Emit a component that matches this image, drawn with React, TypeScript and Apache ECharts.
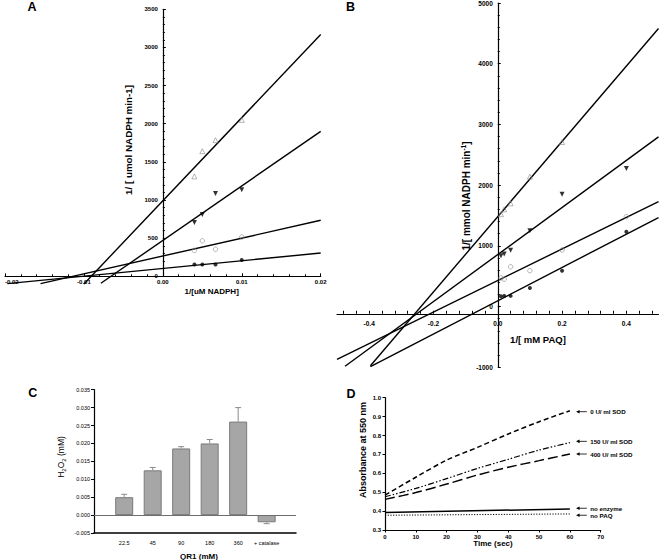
import React, { useEffect, useRef } from 'react';
import * as echarts from 'echarts';

const FONT = '"Liberation Sans", Arial, Helvetica, sans-serif';

// ---------- Panel A (1/v vs 1/[NADPH]) ----------
const aTriOpen = [[0.004, 1310], [0.005, 1640], [0.00667, 1785], [0.01, 2050]];
const aTriFilled = [[0.004, 705], [0.005, 810], [0.00667, 1085], [0.01, 1135]];
const aCircOpen = [[0.004, 340], [0.005, 465], [0.00667, 355], [0.01, 515]];
const aCircFilled = [[0.004, 155], [0.005, 155], [0.00667, 155], [0.01, 215]];
const aFitTriOpen = [[-0.01, -100], [0.02, 3170]];
const aFitTriFilled = [[-0.00785, -91], [0.02, 1900]];
const aFitCircOpen = [[-0.0155, -96], [0.02, 734]];
const aFitCircFilled = [[-0.0197, -96], [0.02, 305]];

// ---------- Panel B (1/v vs 1/[PAQ]) ----------
const bTriOpen = [[0.01, 1520], [0.02, 1600], [0.04, 1700], [0.1, 2140], [0.2, 2710]];
const bTriFilled = [[0.01, 835], [0.02, 865], [0.04, 925], [0.1, 1250], [0.2, 1850], [0.4, 2275]];
const bCircOpen = [[0.01, 470], [0.02, 450], [0.04, 655], [0.1, 590], [0.2, 930], [0.4, 1480]];
const bCircFilled = [[0.01, 170], [0.02, 175], [0.04, 175], [0.1, 305], [0.2, 590], [0.4, 1230]];
const bFitTriOpen = [[-0.396, -975], [0.5, 4580]];
const bFitTriFilled = [[-0.475, -985], [0.5, 2794]];
const bFitCircOpen = [[-0.5, -870], [0.5, 1727]];
const bFitCircFilled = [[-0.396, -992], [0.5, 1466]];
const bXLabels = [-0.4, -0.2, 0, 0.2, 0.4];
const bXAxisCrossesAt = -120; // y value where the x axis line is drawn

// ---------- Panel C (H2O2 bars) ----------
const cCats = ['22.5', '45', '90', '180', '360', '+ catalase'];
const cValues = [0.005, 0.0125, 0.0186, 0.02, 0.0261, -0.002];
const cErrors = [0.0008, 0.0008, 0.0005, 0.0011, 0.0039, 0.0004];

// ---------- Panel D (absorbance vs time) ----------
const dTime = [0, 10, 20, 30, 40, 50, 60];
const dSod0 = [0.485, 0.579, 0.67, 0.737, 0.808, 0.873, 0.931];
const dSod150 = [0.476, 0.52, 0.572, 0.626, 0.674, 0.723, 0.762];
const dSod400 = [0.462, 0.498, 0.543, 0.591, 0.632, 0.667, 0.702];
const dNoEnzymeT = [0, 60];
const dNoEnzyme = [0.393, 0.411];
const dNoPaqT = [0, 60];
const dNoPaq = [0.378, 0.385];
const dLabels = ['0 U/ ml SOD', '150 U/ ml SOD', '400 U/ ml SOD', 'no enzyme', 'no PAQ'];
const dLabelY = [0.926, 0.769, 0.702, 0.415, 0.378];

const pair = (xs: number[], ys: number[]) => xs.map((x, i) => [x, ys[i]]);

const blackLine = (data: number[][], xi: number, yi: number) => ({
  type: 'line', xAxisIndex: xi, yAxisIndex: yi, data, symbol: 'none', showSymbol: false,
  clip: false, silent: true, lineStyle: { color: '#000', width: 1.4 }, z: 3,
});

const marks = (data: number[][], xi: number, yi: number, symbol: string, rot: number, filled: boolean, size = 5) => ({
  type: 'scatter', xAxisIndex: xi, yAxisIndex: yi, data, symbol, symbolRotate: rot, symbolSize: size,
  clip: false, silent: true, z: 4,
  itemStyle: filled
    ? { color: '#000' }
    : { color: 'rgba(255,255,255,0)', borderColor: '#8c8c8c', borderWidth: 0.8 },
});

const tickLabel = (size: number, bold = true) => ({
  fontSize: size, fontWeight: bold ? 'bold' : 'normal', color: '#000', fontFamily: FONT,
});

const axisLine = (w = 1.2) => ({ onZero: false, lineStyle: { color: '#000', width: w } });

const gtext = (text: string, x: number, y: number, size: number, rot = 0, rich?: any) => ({
  type: 'text', x, y, rotation: rot, silent: true, z: 100,
  style: {
    text, fontSize: size, fontWeight: 'bold', fontFamily: FONT, fill: '#000',
    textAlign: 'center', textVerticalAlign: 'middle', align: 'center', verticalAlign: 'middle',
    rich,
  },
});

const bTicks: number[] = [];
for (let k = -12; k <= 12; k++) bTicks.push(Math.round(k * 4) / 100);

const plain = (v: number) => String(v);

// grid geometry (pixels)
const GA = { left: 5, top: 9.3, width: 315.7, height: 267 };
const GB = { left: 337, top: 3, width: 321.5, height: 364.2 };
const GC = { left: 94, top: 389.7, width: 202, height: 143.3 };
const GD = { left: 385, top: 397.7, width: 215.7, height: 132.3 };

export default function App() {
  const ref = useRef<HTMLDivElement>(null);
  useEffect(() => {
    if (!ref.current) return;
    const chart = echarts.init(ref.current, null, { renderer: 'svg' });
    const g = { outerBoundsMode: 'none', containLabel: false };
    // place y axes at x = 0 and B's x axis at y = bXAxisCrossesAt using axis offsets
    const aYOffset = -GA.width / 2; // x range -0.02..0.02 -> zero in the middle
    const bYOffset = -GB.width / 2; // x range -0.5..0.5
    const bXOffset = -((bXAxisCrossesAt + 1000) / 6000) * GB.height;
    const option: any = {
      animation: false,
      backgroundColor: '#fff',
      textStyle: { fontFamily: FONT },
      grid: [{ ...g, ...GA }, { ...g, ...GB }, { ...g, ...GC }, { ...g, ...GD }],
      xAxis: [
        {
          gridIndex: 0, type: 'value', min: -0.02, max: 0.02, interval: 0.01, position: 'bottom',
          axisLine: axisLine(),
          axisTick: { inside: true, length: 3, lineStyle: { color: '#000' } },
          minorTick: { show: true, splitNumber: 5, length: 2, lineStyle: { color: '#000' } },
          axisLabel: { ...tickLabel(6), margin: 3, alignMinLabel: 'left', formatter: (v: number) => v.toFixed(2) },
          splitLine: { show: false },
        },
        {
          gridIndex: 1, type: 'value', min: -0.5, max: 0.5, position: 'bottom', offset: bXOffset,
          axisLine: axisLine(),
          axisTick: { inside: true, length: 3, customValues: bTicks, lineStyle: { color: '#000' } },
          axisLabel: { ...tickLabel(6.5), margin: 6, customValues: bXLabels, formatter: (v: number) => v.toFixed(1) },
          splitLine: { show: false },
        },
        {
          gridIndex: 2, type: 'value', min: -1.06, max: 6.03,
          axisLine: axisLine(1.5),
          axisTick: { show: false },
          axisLabel: {
            ...tickLabel(5.5, false), margin: 7, customValues: [0, 1, 2, 3, 4, 5],
            formatter: (v: number) => cCats[Math.round(v)] ?? '',
          },
          splitLine: { show: false },
        },
        {
          gridIndex: 3, type: 'value', min: 0, max: 70, interval: 10,
          axisLine: axisLine(),
          axisTick: { length: 2.5, lineStyle: { color: '#000' } },
          axisLabel: { ...tickLabel(6), margin: 4, formatter: plain },
          splitLine: { show: false },
        },
      ],
      yAxis: [
        {
          gridIndex: 0, type: 'value', min: 0, max: 3500, interval: 500, position: 'left', offset: aYOffset,
          axisLine: axisLine(),
          axisTick: { inside: true, length: 3, lineStyle: { color: '#000' } },
          minorTick: { show: true, splitNumber: 5, length: 2, lineStyle: { color: '#000' } },
          axisLabel: { ...tickLabel(6), margin: 5, formatter: plain },
          splitLine: { show: false },
        },
        {
          gridIndex: 1, type: 'value', min: -1000, max: 5000, interval: 1000, position: 'left', offset: bYOffset,
          axisLine: axisLine(),
          axisTick: { inside: true, length: 3, lineStyle: { color: '#000' } },
          minorTick: { show: true, splitNumber: 5, length: 2, lineStyle: { color: '#000' } },
          axisLabel: { ...tickLabel(6.5), margin: 5, formatter: plain },
          splitLine: { show: false },
        },
        {
          gridIndex: 2, type: 'value', min: -0.005, max: 0.035, interval: 0.005,
          axisLine: axisLine(),
          axisTick: { length: 3, lineStyle: { color: '#000' } },
          axisLabel: { ...tickLabel(5.5, false), margin: 4, formatter: (v: number) => v.toFixed(3) },
          splitLine: { show: false },
        },
        {
          gridIndex: 3, type: 'value', min: 0.3, max: 1.0, interval: 0.1,
          axisLine: axisLine(),
          axisTick: { length: 2.5, lineStyle: { color: '#000' } },
          axisLabel: { ...tickLabel(6), margin: 4, formatter: (v: number) => v.toFixed(1) },
          splitLine: { show: false },
        },
      ],
      series: [
        // A
        blackLine(aFitTriOpen, 0, 0),
        blackLine(aFitTriFilled, 0, 0),
        blackLine(aFitCircOpen, 0, 0),
        blackLine(aFitCircFilled, 0, 0),
        marks(aTriOpen, 0, 0, 'triangle', 0, false),
        marks(aTriFilled, 0, 0, 'triangle', 180, true),
        marks(aCircOpen, 0, 0, 'circle', 0, false, 4.5),
        marks(aCircFilled, 0, 0, 'circle', 0, true, 4),
        // B
        blackLine(bFitTriOpen, 1, 1),
        blackLine(bFitTriFilled, 1, 1),
        blackLine(bFitCircOpen, 1, 1),
        blackLine(bFitCircFilled, 1, 1),
        marks(bTriOpen, 1, 1, 'triangle', 0, false),
        marks(bTriFilled, 1, 1, 'triangle', 180, true),
        marks(bCircOpen, 1, 1, 'circle', 0, false, 4.5),
        marks(bCircFilled, 1, 1, 'circle', 0, true, 4),
        // C
        {
          type: 'bar', xAxisIndex: 2, yAxisIndex: 2, barWidth: 18, silent: true,
          data: cValues.map((v, i) => [i, v]),
          itemStyle: { color: '#a6a6a6', borderColor: '#7a7a7a', borderWidth: 1 },
          markLine: {
            silent: true, symbol: 'none', label: { show: false },
            lineStyle: { color: '#6e6e6e', width: 1, type: 'solid' },
            data: [{ yAxis: 0 }],
          },
        },
        {
          type: 'custom', xAxisIndex: 2, yAxisIndex: 2, silent: true, z: 5, clip: false,
          data: cValues.map((v, i) => [i, v, cErrors[i]]),
          renderItem: (_p: any, api: any) => {
            const i = api.value(0), v = api.value(1), e = api.value(2);
            const a = api.coord([i, v]);
            const b = api.coord([i, v + (v >= 0 ? e : -e)]);
            const st = { stroke: '#8a8a8a', lineWidth: 1 };
            return {
              type: 'group',
              children: [
                { type: 'line', shape: { x1: a[0], y1: a[1], x2: b[0], y2: b[1] }, style: st },
                { type: 'line', shape: { x1: b[0] - 3, y1: b[1], x2: b[0] + 3, y2: b[1] }, style: st },
              ],
            };
          },
        },
        // D
        {
          type: 'line', xAxisIndex: 3, yAxisIndex: 3, data: pair(dTime, dSod0), symbol: 'none', smooth: 0.3,
          silent: true, lineStyle: { color: '#000', width: 1.5, type: [5, 3] },
        },
        {
          type: 'line', xAxisIndex: 3, yAxisIndex: 3, data: pair(dTime, dSod150), symbol: 'none', smooth: 0.3,
          silent: true, lineStyle: { color: '#000', width: 1.2, type: [6, 2, 1.5, 2, 1.5, 2] },
        },
        {
          type: 'line', xAxisIndex: 3, yAxisIndex: 3, data: pair(dTime, dSod400), symbol: 'none', smooth: 0.3,
          silent: true, lineStyle: { color: '#000', width: 1.5, type: [10, 4] },
        },
        {
          type: 'line', xAxisIndex: 3, yAxisIndex: 3, data: pair(dNoEnzymeT, dNoEnzyme), symbol: 'none',
          silent: true, lineStyle: { color: '#000', width: 1.5, type: 'solid' },
        },
        {
          type: 'line', xAxisIndex: 3, yAxisIndex: 3, data: pair(dNoPaqT, dNoPaq), symbol: 'none',
          silent: true, lineStyle: { color: '#000', width: 1, type: [1.2, 1.5] },
        },
        {
          type: 'custom', xAxisIndex: 3, yAxisIndex: 3, silent: true, clip: false, z: 6,
          data: dLabelY.map((y) => [62, y]),
          renderItem: (p: any, api: any) => {
            const y = api.value(1);
            const tip = api.coord([62, y]);
            const tail = api.coord([65.5, y]);
            const tx = api.coord([66.6, y]);
            return {
              type: 'group',
              children: [
                { type: 'line', shape: { x1: tip[0] + 2, y1: tip[1], x2: tail[0], y2: tail[1] }, style: { stroke: '#000', lineWidth: 0.8 } },
                { type: 'polygon', shape: { points: [[tip[0], tip[1]], [tip[0] + 3.5, tip[1] - 1.8], [tip[0] + 3.5, tip[1] + 1.8]] }, style: { fill: '#000' } },
                {
                  type: 'text', x: tx[0], y: tx[1],
                  style: { text: dLabels[p.dataIndex], fontSize: 6.2, fontWeight: 'bold', fontFamily: FONT, fill: '#000', align: 'left', verticalAlign: 'middle', textAlign: 'left', textVerticalAlign: 'middle' },
                },
              ],
            };
          },
        },
      ],
      graphic: [
        gtext('A', 32, 6.5, 12.5),
        gtext('B', 350.5, 6.7, 12.5),
        gtext('C', 32.7, 393, 12.5),
        gtext('D', 351, 393.5, 12.5),
        gtext('1/ [ umol NADPH min-1]', 128, 140, 9.8, Math.PI / 2),
        gtext('1/[uM NADPH]', 211.7, 291, 8),
        gtext('{a|1/[ mmol NADPH min}{s|-1}{a|]}', 466, 196, 10, Math.PI / 2, {
          a: { fontSize: 10, fontWeight: 'bold', fontFamily: FONT, lineHeight: 13, fill: '#000' },
          s: { fontSize: 6.5, fontWeight: 'bold', fontFamily: FONT, lineHeight: 6, verticalAlign: 'top', fill: '#000' },
        }),
        gtext('1/[ mM PAQ]', 538, 339, 9.5),
        gtext('{a|H}{s|2}{a|O}{s|2}{a| (mM)}', 61, 457, 8.5, Math.PI / 2, {
          a: { fontSize: 8.5, fontWeight: 'normal', fontFamily: FONT, lineHeight: 12, fill: '#000' },
          s: { fontSize: 6, fontWeight: 'normal', fontFamily: FONT, lineHeight: 6, verticalAlign: 'bottom', fill: '#000' },
        }),
        gtext('QR1 (mM)', 199, 556.5, 8),
        gtext('Absorbance at 550 nm', 363.3, 450, 9, Math.PI / 2),
        gtext('Time (sec)', 493, 543, 8),
      ],
    };
    chart.setOption(option);
    return () => chart.dispose();
  }, []);
  return (
    <div
      ref={ref}
      style={{ position: 'absolute', left: 0, top: 0, width: 660, height: 560, background: '#fff' }}
    />
  );
}
